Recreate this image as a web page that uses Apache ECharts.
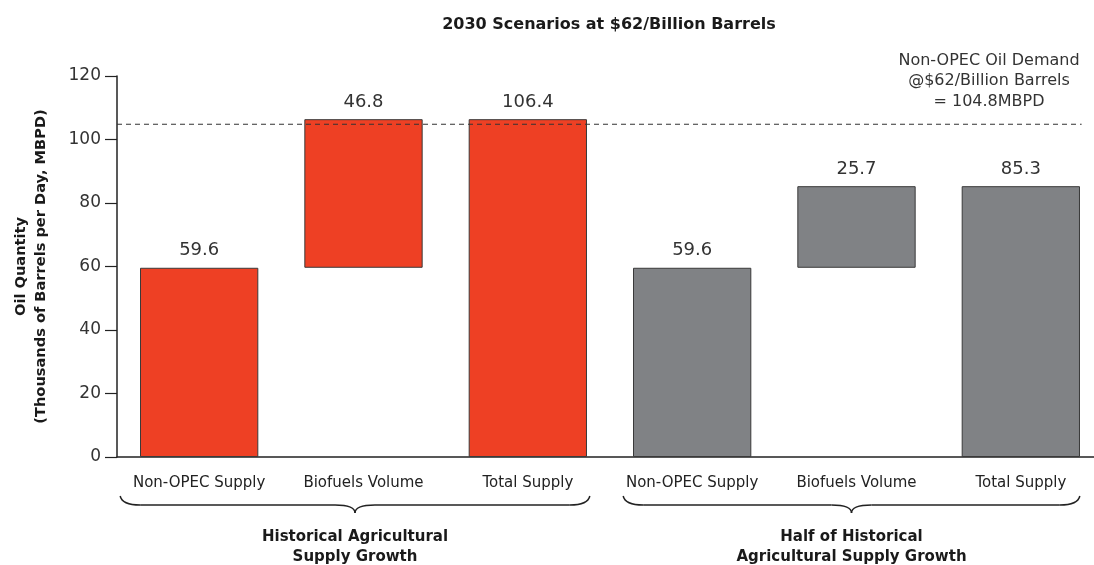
<!DOCTYPE html>
<html>
<head>
<meta charset="utf-8">
<script src="https://cdn.jsdelivr.net/npm/echarts@6/dist/echarts.min.js"></script>
<style>
  html, body { margin: 0; padding: 0; background: #fff; }
  #chart { width: 1094px; height: 565px; }
</style>
</head>
<body>
<div id="chart"></div>
<script>
const categories = ['Non-OPEC Supply', 'Biofuels Volume', 'Total Supply', 'Non-OPEC Supply', 'Biofuels Volume', 'Total Supply'];
const baseValues = [0, 59.6, 0, 0, 59.6, 0];
const historicalValues = [59.6, 46.8, 106.4, '-', '-', '-'];
const halfValues = ['-', '-', '-', 59.6, 25.7, 85.3];
const demandLevel = 104.8;
const yTicks = [0, 20, 40, 60, 80, 100, 120];
const groups = [
  { name: 'Historical Agricultural\nSupply Growth', from: 0, to: 2 },
  { name: 'Half of Historical\nAgricultural Supply Growth', from: 3, to: 5 }
];

const RED = '#EE4024';
const GRAY = '#808285';
const FONT = '"DejaVu Sans", "Liberation Sans", sans-serif';

const chart = echarts.init(document.getElementById('chart'));

const option = {
  animation: false,
  title: {
    text: '2030 Scenarios at $62/Billion Barrels',
    left: 604,
    textAlign: 'center',
    top: 12,
    textStyle: { fontFamily: FONT, fontSize: 16, fontWeight: 'bold', color: '#1a1a1a' }
  },
  grid: { left: 117, top: 76, width: 986, height: 381, outerBoundsMode: 'none', containLabel: false },
  xAxis: [{
    type: 'category',
    data: categories,
    axisLine: { lineStyle: { color: '#222', width: 1.5 } },
    axisTick: { show: false },
    axisLabel: { interval: 0, margin: 19, fontFamily: FONT, fontSize: 15, color: '#222' }
  }, {
    type: 'value',
    min: 0,
    max: 6,
    show: false
  }],
  yAxis: {
    type: 'value',
    min: yTicks[0],
    max: yTicks[yTicks.length - 1],
    interval: 20,
    name: 'Oil Quantity\n(Thousands of Barrels per Day, MBPD)',
    nameLocation: 'middle',
    nameGap: 66,
    nameTextStyle: { fontFamily: FONT, fontSize: 14.6, fontWeight: 'bold', color: '#1a1a1a', lineHeight: 20 },
    splitLine: { show: false },
    axisLine: { show: true, lineStyle: { color: '#222', width: 1.5 } },
    axisTick: { show: true, length: 12, lineStyle: { color: '#222', width: 1.2 } },
    axisLabel: { margin: 16, fontFamily: FONT, fontSize: 17, color: '#333' }
  },
  series: [{
    name: 'base',
    type: 'bar',
    stack: 'w',
    barWidth: '72%',
    itemStyle: { color: 'transparent' },
    data: baseValues,
    silent: true
  }, {
    name: 'Historical',
    type: 'bar',
    stack: 'w',
    barWidth: '72%',
    itemStyle: { color: RED, borderColor: '#3a3a3a', borderWidth: 1 },
    label: { show: true, position: 'top', distance: 8, fontFamily: FONT, fontSize: 18, color: '#333' },
    data: historicalValues
  }, {
    name: 'Half',
    type: 'bar',
    stack: 'w',
    barWidth: '72%',
    itemStyle: { color: GRAY, borderColor: '#3a3a3a', borderWidth: 1 },
    label: { show: true, position: 'top', distance: 8, fontFamily: FONT, fontSize: 18, color: '#333' },
    data: halfValues
  }, {
    name: 'Demand',
    type: 'line',
    xAxisIndex: 1,
    symbol: 'none',
    lineStyle: { color: '#333', width: 1.2, type: [5, 4] },
    data: [[0, demandLevel], [5.87, demandLevel]],
    silent: true
  }]
};

chart.setOption(option);

// braces and group labels under the categories
const graphics = [];
const braceTop = 496, braceMid = 505, braceTip = 513;
const braceStyle = { fill: null, stroke: '#222', lineWidth: 1.5 };
const braceEnds = [[-79, 62], [-69, 59]];
groups.forEach((g, i) => {
  const xa = chart.convertToPixel({ xAxisIndex: 0 }, g.from);
  const xb = chart.convertToPixel({ xAxisIndex: 0 }, g.to);
  const x0 = xa + braceEnds[i][0];
  const x1 = xb + braceEnds[i][1];
  const mid = (x0 + x1) / 2;
  const c = 20;
  graphics.push(
    { type: 'bezierCurve', shape: { x1: x0, y1: braceTop, x2: x0 + c, y2: braceMid, cpx1: x0 + 2, cpy1: braceMid }, style: braceStyle },
    { type: 'line', shape: { x1: x0 + c, y1: braceMid, x2: mid - c, y2: braceMid }, style: braceStyle },
    { type: 'bezierCurve', shape: { x1: mid - c, y1: braceMid, x2: mid, y2: braceTip, cpx1: mid, cpy1: braceMid }, style: braceStyle },
    { type: 'bezierCurve', shape: { x1: mid, y1: braceTip, x2: mid + c, y2: braceMid, cpx1: mid, cpy1: braceMid }, style: braceStyle },
    { type: 'line', shape: { x1: mid + c, y1: braceMid, x2: x1 - c, y2: braceMid }, style: braceStyle },
    { type: 'bezierCurve', shape: { x1: x1 - c, y1: braceMid, x2: x1, y2: braceTop, cpx1: x1 - 2, cpy1: braceMid }, style: braceStyle }
  );
  graphics.push({
    type: 'text',
    x: mid,
    y: 527,
    style: {
      text: g.name,
      align: 'center',
      verticalAlign: 'top',
      font: 'bold 15px ' + FONT,
      lineHeight: 20,
      fill: '#1a1a1a'
    }
  });
});

// demand annotation
const demandY = chart.convertToPixel({ yAxisIndex: 0 }, demandLevel);
graphics.push({
  type: 'text',
  x: 989,
  y: demandY - 74,
  style: {
    text: 'Non-OPEC Oil Demand\n@$62/Billion Barrels\n= ' + demandLevel + 'MBPD',
    align: 'center',
    verticalAlign: 'top',
    font: '16px ' + FONT,
    lineHeight: 20.5,
    fill: '#333'
  }
});

chart.setOption({ graphic: graphics });
</script>
</body>
</html>
